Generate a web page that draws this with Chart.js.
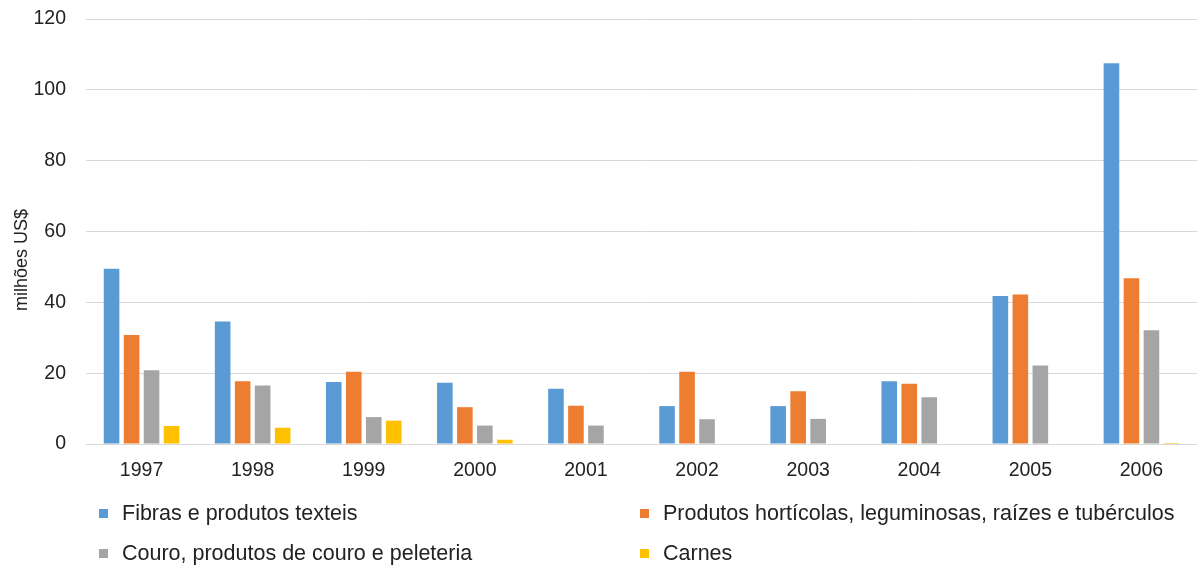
<!DOCTYPE html>
<html lang="pt">
<head>
<meta charset="utf-8">
<title>Exportações por produto</title>
<script src="https://cdn.jsdelivr.net/npm/chart.js@4.4.1/dist/chart.umd.min.js"></script>
<style>
  html, body { margin: 0; padding: 0; background: #fff; }
  #wrap { position: relative; width: 1197px; height: 565px; }
  #chart { display: block; }
  #legend {
    position: absolute; left: 99px; top: 493px;
    display: grid; grid-template-columns: 541px auto; grid-auto-rows: 40px;
    font: 21.5px "Liberation Sans", Arial, sans-serif; color: #222;
  }
  .legend-item { display: flex; align-items: center; white-space: nowrap; }
  .legend-box { width: 9px; height: 9px; margin-right: 14px; flex: none; }
</style>
</head>
<body>
<div id="wrap">
  <canvas id="chart" width="1197" height="565"></canvas>
  <div id="legend"></div>
</div>
<script>
'use strict';

const years = ['1997', '1998', '1999', '2000', '2001', '2002', '2003', '2004', '2005', '2006'];

const fibras   = [49.5, 34.6, 17.5, 17.3, 15.6, 10.7, 10.7, 17.7, 41.8, 107.5];
const horticol = [30.8, 17.7, 20.4, 10.4, 10.8, 20.4, 14.9, 17.0, 42.2, 46.8];
const couro    = [20.8, 16.5,  7.6,  5.2,  5.2,  7.0,  7.1, 13.2, 22.2, 32.1];
const carnes   = [ 5.1,  4.6,  6.6,  1.2,  0,    0,    0,    0,    0,    0.3];

const yTicks = { min: 0, max: 120, step: 20 };

const seriesDefs = [
  { label: 'Fibras e produtos texteis', data: fibras, color: '#5B9BD5' },
  { label: 'Produtos hortícolas, leguminosas, raízes e tubérculos', data: horticol, color: '#ED7D31' },
  { label: 'Couro, produtos de couro e peleteria', data: couro, color: '#A5A5A5' },
  { label: 'Carnes', data: carnes, color: '#FFC000' },
];

const FONT = '"Liberation Sans", Arial, sans-serif';
const TEXT = '#222';

// rotated y-axis title, drawn by hand so it can sit off-centre
const yTitle = {
  id: 'yTitle',
  afterDraw(chart) {
    const ctx = chart.ctx;
    ctx.save();
    ctx.translate(22, 260);
    ctx.rotate(-Math.PI / 2);
    ctx.font = `18px ${FONT}`;
    ctx.fillStyle = TEXT;
    ctx.textAlign = 'center';
    ctx.textBaseline = 'middle';
    ctx.fillText('milhões US$', 0, 0);
    ctx.restore();
  },
};

const chart = new Chart(document.getElementById('chart'), {
  type: 'bar',
  data: {
    labels: years,
    datasets: seriesDefs.map(s => ({
      label: s.label,
      data: s.data,
      backgroundColor: s.color,
      borderWidth: 0,
      categoryPercentage: 0.72,
      barPercentage: 0.78,
    })),
  },
  options: {
    responsive: false,
    animation: false,
    devicePixelRatio: 1,
    layout: { padding: { top: 19, right: 0, bottom: 0, left: 0 } },
    plugins: {
      legend: { display: false },
      tooltip: { enabled: false },
    },
    scales: {
      x: {
        grid: { display: false, drawTicks: false },
        border: { color: '#d9d9d9', width: 1 },
        ticks: { color: TEXT, font: { size: 19.5, family: FONT }, padding: 15, maxRotation: 0 },
        afterFit: s => { s.height = 121; },
      },
      y: {
        min: yTicks.min,
        max: yTicks.max,
        grid: { color: '#d9d9d9', lineWidth: 1, drawTicks: false },
        border: { display: false },
        ticks: { stepSize: yTicks.step, color: TEXT, font: { size: 19.5, family: FONT }, padding: 20 },
        // fixed axis width; drop the label overhang so the plot top sits on the layout padding
        afterFit: s => { s.width = 86; s.paddingTop = 0; s.paddingBottom = 0; },
      },
    },
  },
  plugins: [yTitle],
});

// two-column legend under the plot
const legendEl = document.getElementById('legend');
seriesDefs.forEach(s => {
  const item = document.createElement('div');
  item.className = 'legend-item';
  item.innerHTML = `<span class="legend-box" style="background:${s.color}"></span>${s.label}`;
  legendEl.appendChild(item);
});
</script>
</body>
</html>
